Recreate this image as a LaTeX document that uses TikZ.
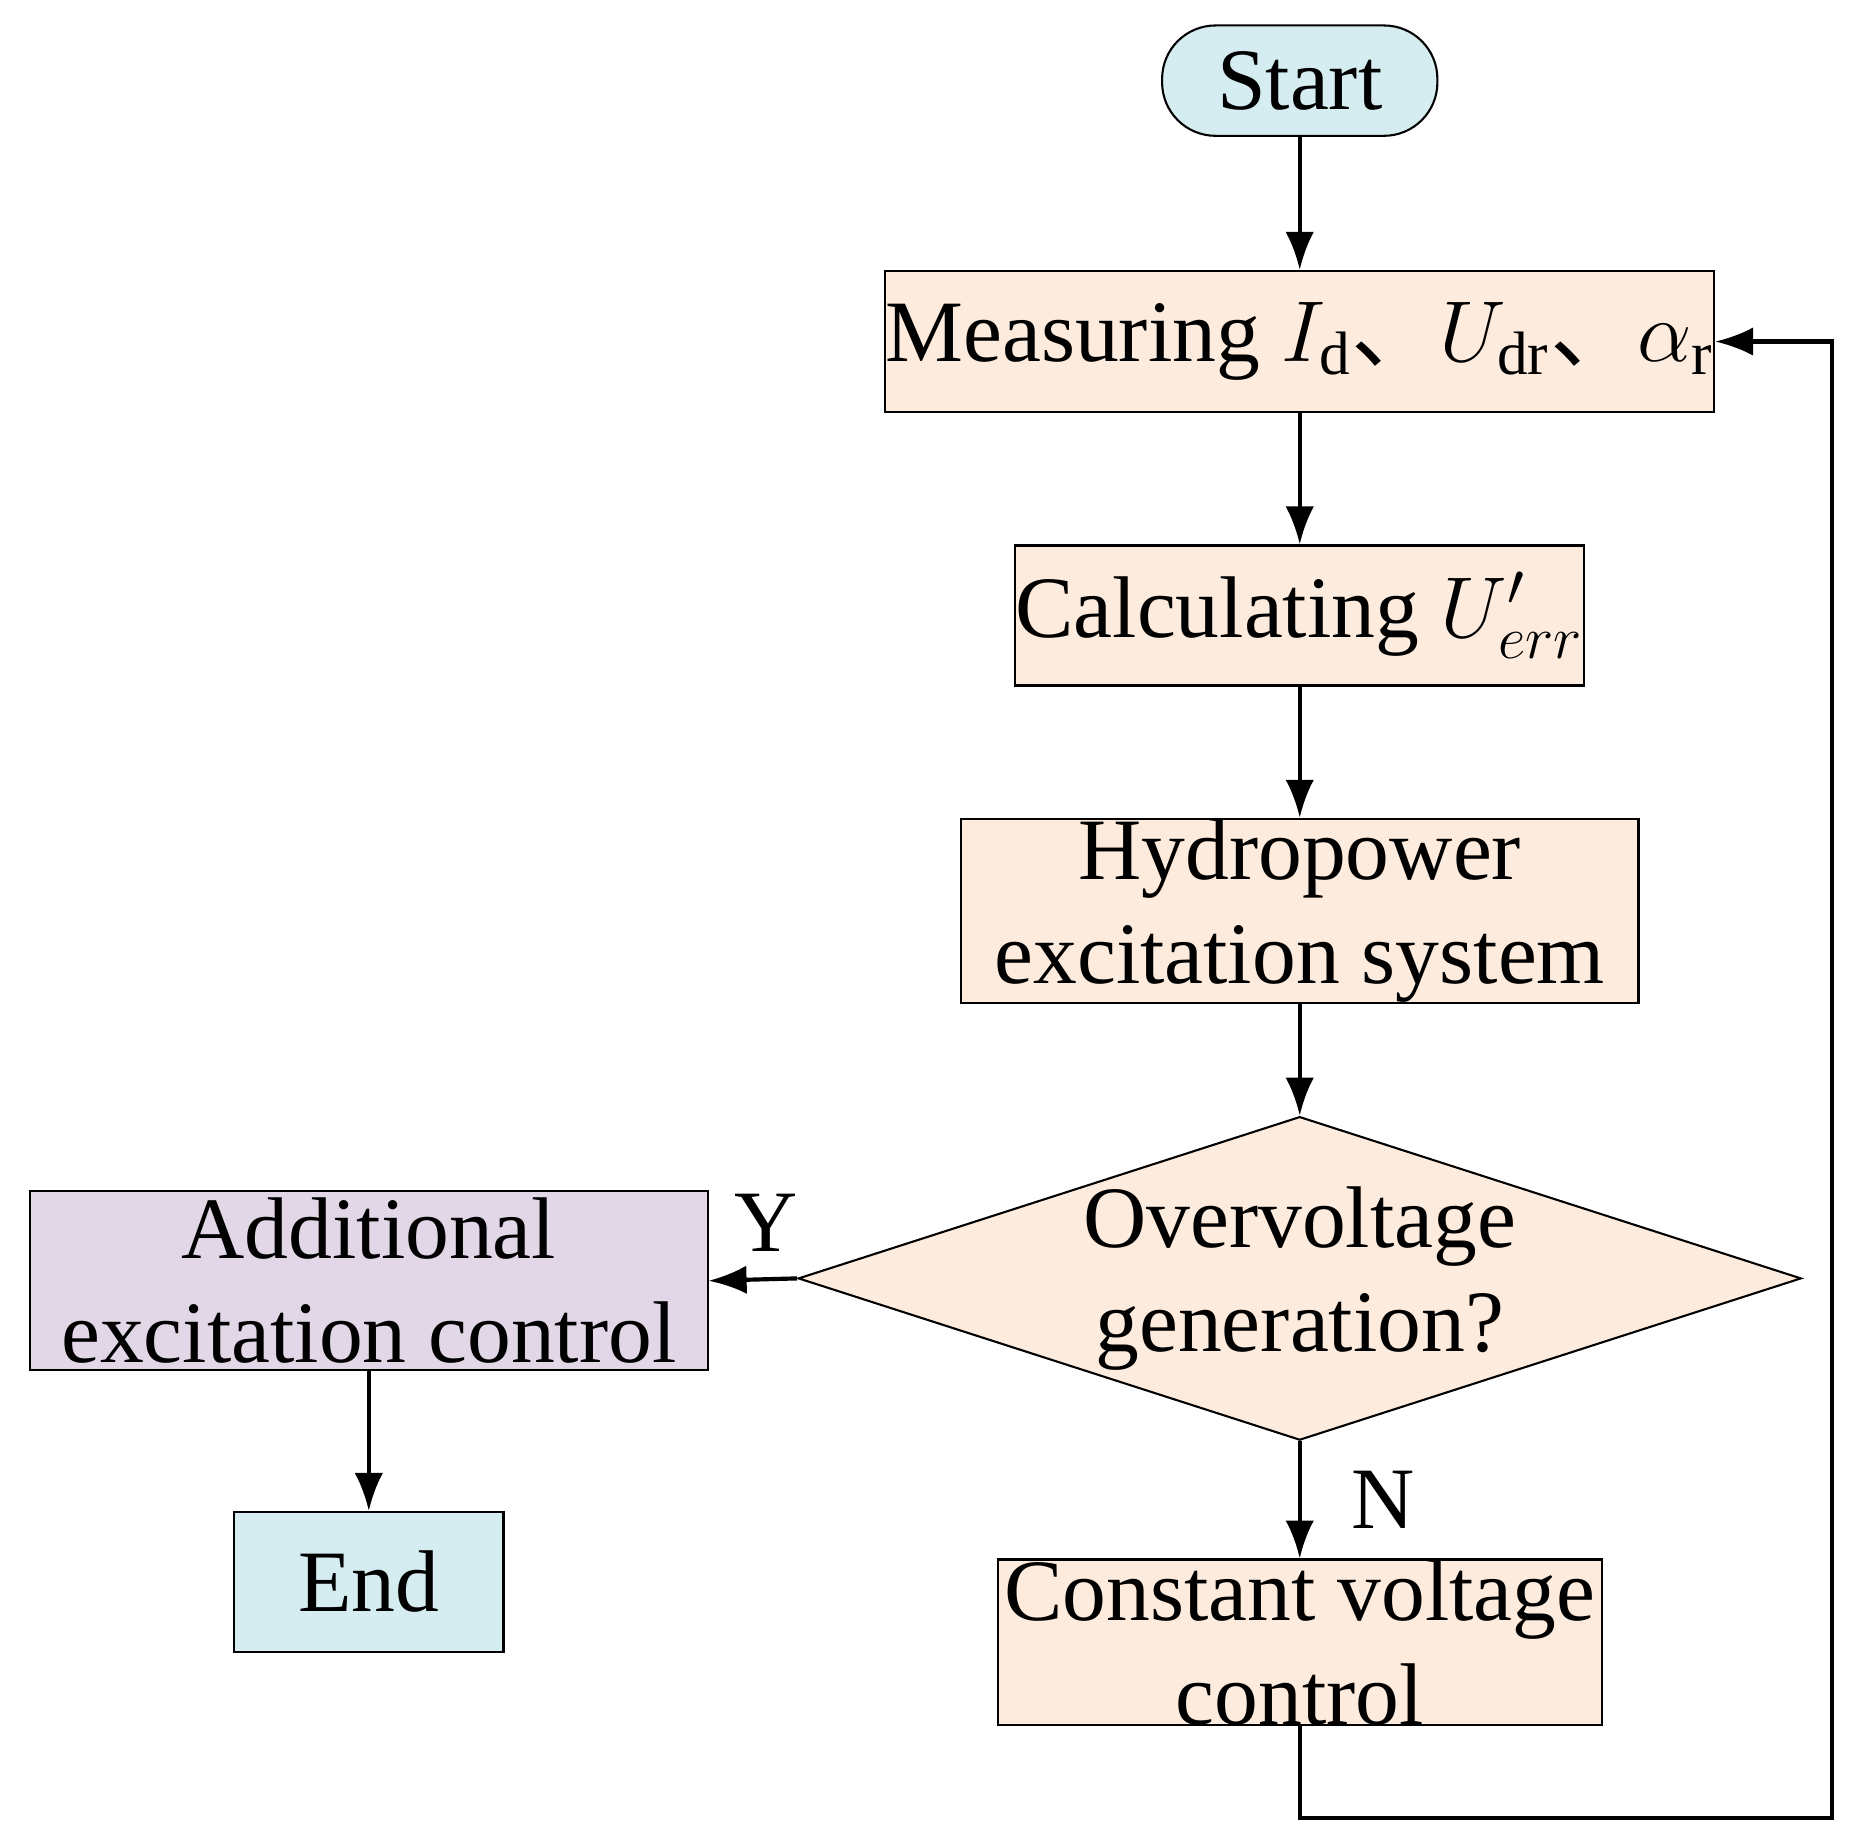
\documentclass[tikz,border=0pt]{standalone}
\usepackage{fontspec}
\setmainfont{Liberation Serif}
\newfontfamily\cjk{Noto Sans CJK SC}
\usetikzlibrary{positioning,shapes.geometric,arrows.meta}
\definecolor{startblue}{HTML}{D5EDF1}
\definecolor{procpeach}{HTML}{FDEBDD}
\definecolor{addlilac}{HTML}{E1D7E7}
\tikzset{
  box/.style={draw,line width=0.5pt,fill=procpeach,inner sep=0pt,align=center,font=\fontsize{21}{25}\selectfont},
  flow/.style={line width=1pt,-{Latex[length=0.32cm,width=0.24cm]}}
}
\begin{document}
\begin{tikzpicture}[x=0.01cm,y=-0.01cm]
\useasboundingbox (0,0) rectangle (1560,1555);

\node[box,fill=startblue,rounded corners=0.45cm,minimum width=2.32cm,minimum height=0.93cm] (start) at (1096,68) {Start};
\node[box,minimum width=6.75cm,minimum height=1.19cm] (measure) at (1096,288)
  {Measuring $I_{\mathrm{d}}${\cjk 、}$U_{\mathrm{dr}}${\cjk 、}$\alpha_{\mathrm{r}}$};
\node[box,minimum width=4.59cm,minimum height=1.18cm] (calc) at (1096,519) {Calculating $U'_{err}$};
\node[box,minimum width=5.71cm,minimum height=1.53cm] (hydro) at (1096,768) {Hydropower\\excitation system};
\node[box,diamond,aspect=3.1,minimum width=7.43cm,minimum height=2.4cm] (over) at (1096,1078) {Overvoltage\\generation?};
\node[box,fill=addlilac,minimum width=5.71cm,minimum height=1.51cm] (extra) at (311,1080) {Additional\\excitation control};
\node[box,fill=startblue,minimum width=2.27cm,minimum height=1.18cm] (end) at (311,1334) {End};
\node[box,minimum width=5.09cm,minimum height=1.37cm] (const) at (1096,1385) {Constant voltage\\control};
\coordinate (loopa) at (1096,1533);
\coordinate (loopb) at (1545,1533);
\coordinate (loopc) at (1545,288);

\draw[flow] (start) -- (measure);
\draw[flow] (measure) -- (calc);
\draw[flow] (calc) -- (hydro);
\draw[flow] (hydro) -- (over);
\draw[flow] (over.west) -- (extra.east -| extra.east) node[pos=0.35,above=0.1cm,font=\fontsize{21}{25}\selectfont] {Y};
\draw[flow] (extra) -- (end);
\draw[flow] (over) -- (const) node[midway,right=0.3cm,font=\fontsize{21}{25}\selectfont] {N};
\draw[flow] (const.south) -- (loopa) -- (loopb) -- (loopc) -- (measure.east);
\end{tikzpicture}
\end{document}
